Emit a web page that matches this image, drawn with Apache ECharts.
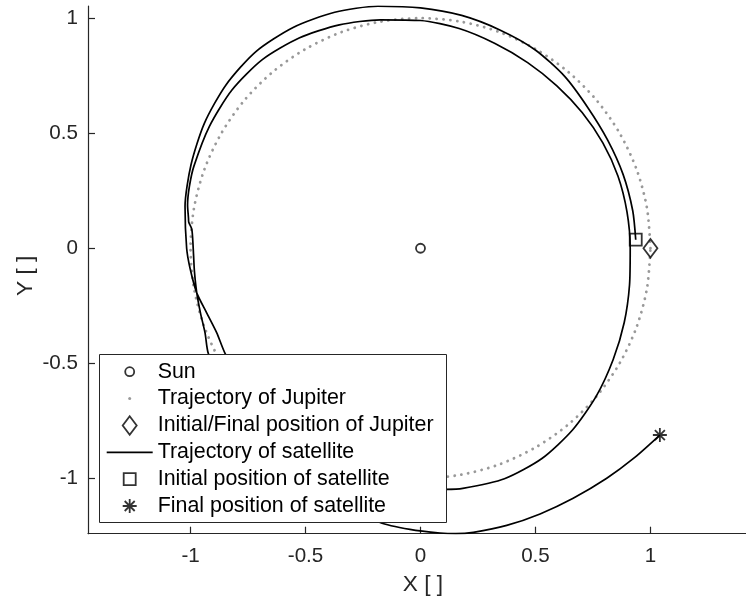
<!DOCTYPE html>
<html>
<head>
<meta charset="utf-8">
<script src="https://cdn.jsdelivr.net/npm/echarts@6/dist/echarts.min.js"></script>
<style>
  html, body { margin: 0; padding: 0; background: #fff; }
  #chart { width: 746px; height: 604px; }
</style>
</head>
<body>
<div id="chart"></div>
<script>
// Sun position
const sunX = [0];
const sunY = [0];

// Jupiter's orbit (unit circle), sampled every 10 degrees
const jupX = [1, 0.985, 0.940, 0.866, 0.766, 0.643, 0.5, 0.342, 0.174, 0, -0.174, -0.342, -0.5, -0.643, -0.766, -0.866, -0.940, -0.985,
              -1, -0.985, -0.940, -0.866, -0.766, -0.643, -0.5, -0.342, -0.174, 0, 0.174, 0.342, 0.5, 0.643, 0.766, 0.866, 0.940, 0.985, 1];
const jupY = [0, 0.174, 0.342, 0.5, 0.643, 0.766, 0.866, 0.940, 0.985, 1, 0.985, 0.940, 0.866, 0.766, 0.643, 0.5, 0.342, 0.174,
              0, -0.174, -0.342, -0.5, -0.643, -0.766, -0.866, -0.940, -0.985, -1, -0.985, -0.940, -0.866, -0.766, -0.643, -0.5, -0.342, -0.174, 0];

// Jupiter initial / final position
const jupStartX = [1];
const jupStartY = [0];

// Satellite trajectory: first (outer) revolution, second revolution, escape arc
const satX = [0.936, 0.923, 0.881, 0.814, 0.728, 0.627, 0.498, 0.345, 0.179, 0.000, -0.185, -0.373, -0.554, -0.717, -0.846, -0.940,
              -0.998, -1.024, -1.017, -1.002, -0.973, -0.930, -0.886, -0.850, -0.751, -0.574, -0.349, -0.091, 0.110, 0.184, 0.365,
              0.528, 0.662, 0.765, 0.838, 0.886, 0.909, 0.912,
              0.898, 0.859, 0.793, 0.703, 0.593, 0.466, 0.324, 0.168, 0.000, -0.175, -0.353, -0.528, -0.688, -0.820, -0.918,
              -0.985, -1.005, -1.013, -1.009, -1.008, -0.995, -0.991, -0.987, -0.983, -0.973, -0.957, -0.937, -0.923,
              -0.860, -0.694, -0.473, -0.300, -0.176, -0.046, 0.085, 0.154, 0.230, 0.375, 0.520, 0.664, 0.810, 0.925, 1.041];
const satY = [0.037, 0.163, 0.321, 0.470, 0.611, 0.747, 0.863, 0.949, 1.012, 1.045, 1.052, 1.026, 0.960, 0.854, 0.710, 0.543,
              0.363, 0.181, 0.000, -0.088, -0.194, -0.281, -0.368, -0.457, -0.630, -0.819, -0.958, -1.041, -1.048, -1.044, -1.002,
              -0.914, -0.789, -0.642, -0.484, -0.323, -0.160, 0.000,
              0.158, 0.313, 0.458, 0.590, 0.706, 0.807, 0.890, 0.955, 0.990, 0.993, 0.971, 0.914, 0.820, 0.688, 0.530,
              0.358, 0.269, 0.188, 0.131, 0.114, 0.084, 0.045, -0.029, -0.103, -0.194, -0.281, -0.368, -0.457,
              -0.602, -0.827, -1.015, -1.120, -1.192, -1.222, -1.238, -1.241, -1.235, -1.205, -1.155, -1.087, -1.000, -0.915, -0.812];

// Satellite initial and final positions
const satStartX = [0.936];
const satStartY = [0.037];
const satEndX = [1.041];
const satEndY = [-0.812];

// Axis ticks
const tickValues = [-1, -0.5, 0, 0.5, 1];

// Legend entries
const names = ['Sun', 'Trajectory of Jupiter', 'Initial/Final position of Jupiter',
               'Trajectory of satellite', 'Initial position of satellite', 'Final position of satellite'];

const pairs = (xs, ys) => xs.map((x, i) => [x, ys[i]]);

const FONT = "'Liberation Sans', Arial, Helvetica, sans-serif";
const AXIS_COLOR = '#262626';

const diamondPath = 'path://M7,0L14,9.25L7,18.5L0,9.25Z';
const squarePath = 'path://M0,0L12,0L12,12L0,12Z';
const starPath = 'path://M7,0L7,14M0,7L14,7M2,2L12,12M12,2L2,12';
const linePath = 'path://M0,0L46,0L46,1.7L0,1.7Z';

const MARKER_LW = 1.8;
const hollow = { color: 'rgba(0,0,0,0)', borderColor: '#000', borderWidth: MARKER_LW };

function axisCommon(name, min, max, gap, labelMargin, namePadding) {
  return {
    type: 'value',
    min: min,
    max: max,
    name: name,
    nameLocation: 'middle',
    nameGap: gap,
    nameMoveOverlap: false,
    nameTextStyle: { fontFamily: FONT, fontSize: 22.7, color: AXIS_COLOR, padding: namePadding },
    axisLine: { show: true, onZero: false, lineStyle: { color: AXIS_COLOR, width: 1.2 } },
    axisTick: { show: true, inside: true, length: 7, customValues: tickValues,
                lineStyle: { color: AXIS_COLOR, width: 1.2 } },
    axisLabel: { show: true, customValues: tickValues, margin: labelMargin,
                 fontFamily: FONT, fontSize: 20.6, color: AXIS_COLOR },
    splitLine: { show: false }
  };
}

// Legend rows: one legend per row so that every marker keeps its own size.
// The legend box is placed by its visible extent, so each row is shifted by
// the blank space left of its (centred) icon.
const ICON_BOX = 46;
const ROW_LEFT = 106.7;
const rowTop0 = 371.7, rowStep = 26.86;
const legendIcons = [
  { icon: 'circle', w: 9, h: 9, lw: MARKER_LW, style: hollow },
  { icon: 'circle', w: 3, h: 3, lw: 0, style: { color: '#999999', borderWidth: 0 } },
  { icon: diamondPath, w: 14, h: 18.5, lw: MARKER_LW, style: hollow },
  { icon: linePath, w: 46, h: 1.7, lw: 0, style: { color: '#000', borderWidth: 0 } },
  { icon: squarePath, w: 12, h: 12, lw: MARKER_LW, style: hollow },
  { icon: starPath, w: 14, h: 14, lw: MARKER_LW, style: hollow }
];
const legends = names.map((n, i) => {
  const ic = legendIcons[i];
  return {
    show: true,
    selectedMode: false,
    orient: 'horizontal',
    left: ROW_LEFT + (ICON_BOX - ic.w) / 2 - ic.lw / 2,
    top: rowTop0 + i * rowStep - 11,
    padding: 0,
    itemGap: 0,
    itemWidth: ICON_BOX,
    itemHeight: ic.h,
    symbolKeepAspect: true,
    data: [{ name: n, icon: ic.icon }],
    itemStyle: ic.style,
    textStyle: { fontFamily: FONT, fontSize: 21.4, color: '#000', lineHeight: 22 },
    z: 11
  };
});

const chart = echarts.init(document.getElementById('chart'), null, { renderer: 'canvas' });
chart.setOption({
  animation: false,
  backgroundColor: '#fff',
  grid: { left: 88, right: -7, top: 6, bottom: 70.3, containLabel: false, outerBoundsMode: 'none' },
  xAxis: axisCommon('X [ ]', -1.446, 1.446, 40, 12, [0, 0, 0, 5]),
  yAxis: axisCommon('Y [ ]', -1.241, 1.053, 51, 10, [0, 12, 0, 0]),
  legend: legends,
  graphic: [{
    type: 'rect',
    z: 10,
    silent: true,
    shape: { x: 99.5, y: 354.5, width: 347, height: 168 },
    style: { fill: '#fff', stroke: AXIS_COLOR, lineWidth: 1 }
  }],
  series: [
    {
      name: names[0], type: 'scatter', silent: true,
      data: pairs(sunX, sunY), symbol: 'circle', symbolSize: 9,
      itemStyle: hollow, z: 5
    },
    {
      name: names[1], type: 'line', silent: true,
      data: pairs(jupX, jupY), showSymbol: false, smooth: 0.3,
      lineStyle: { color: '#999999', width: 2.8, type: [0.1, 6.8], cap: 'round' },
      z: 2
    },
    {
      name: names[2], type: 'scatter', silent: true,
      data: pairs(jupStartX, jupStartY), symbol: diamondPath, symbolSize: [14, 18.5],
      itemStyle: hollow, z: 5
    },
    {
      name: names[3], type: 'line', silent: true,
      data: pairs(satX, satY), showSymbol: false, smooth: 0.25,
      lineStyle: { color: '#000', width: 1.7 },
      z: 3
    },
    {
      name: names[4], type: 'scatter', silent: true,
      data: pairs(satStartX, satStartY), symbol: squarePath, symbolSize: 12,
      itemStyle: hollow, z: 5
    },
    {
      name: names[5], type: 'scatter', silent: true,
      data: pairs(satEndX, satEndY), symbol: starPath, symbolSize: 14,
      itemStyle: hollow, z: 5
    }
  ]
});
</script>
</body>
</html>
